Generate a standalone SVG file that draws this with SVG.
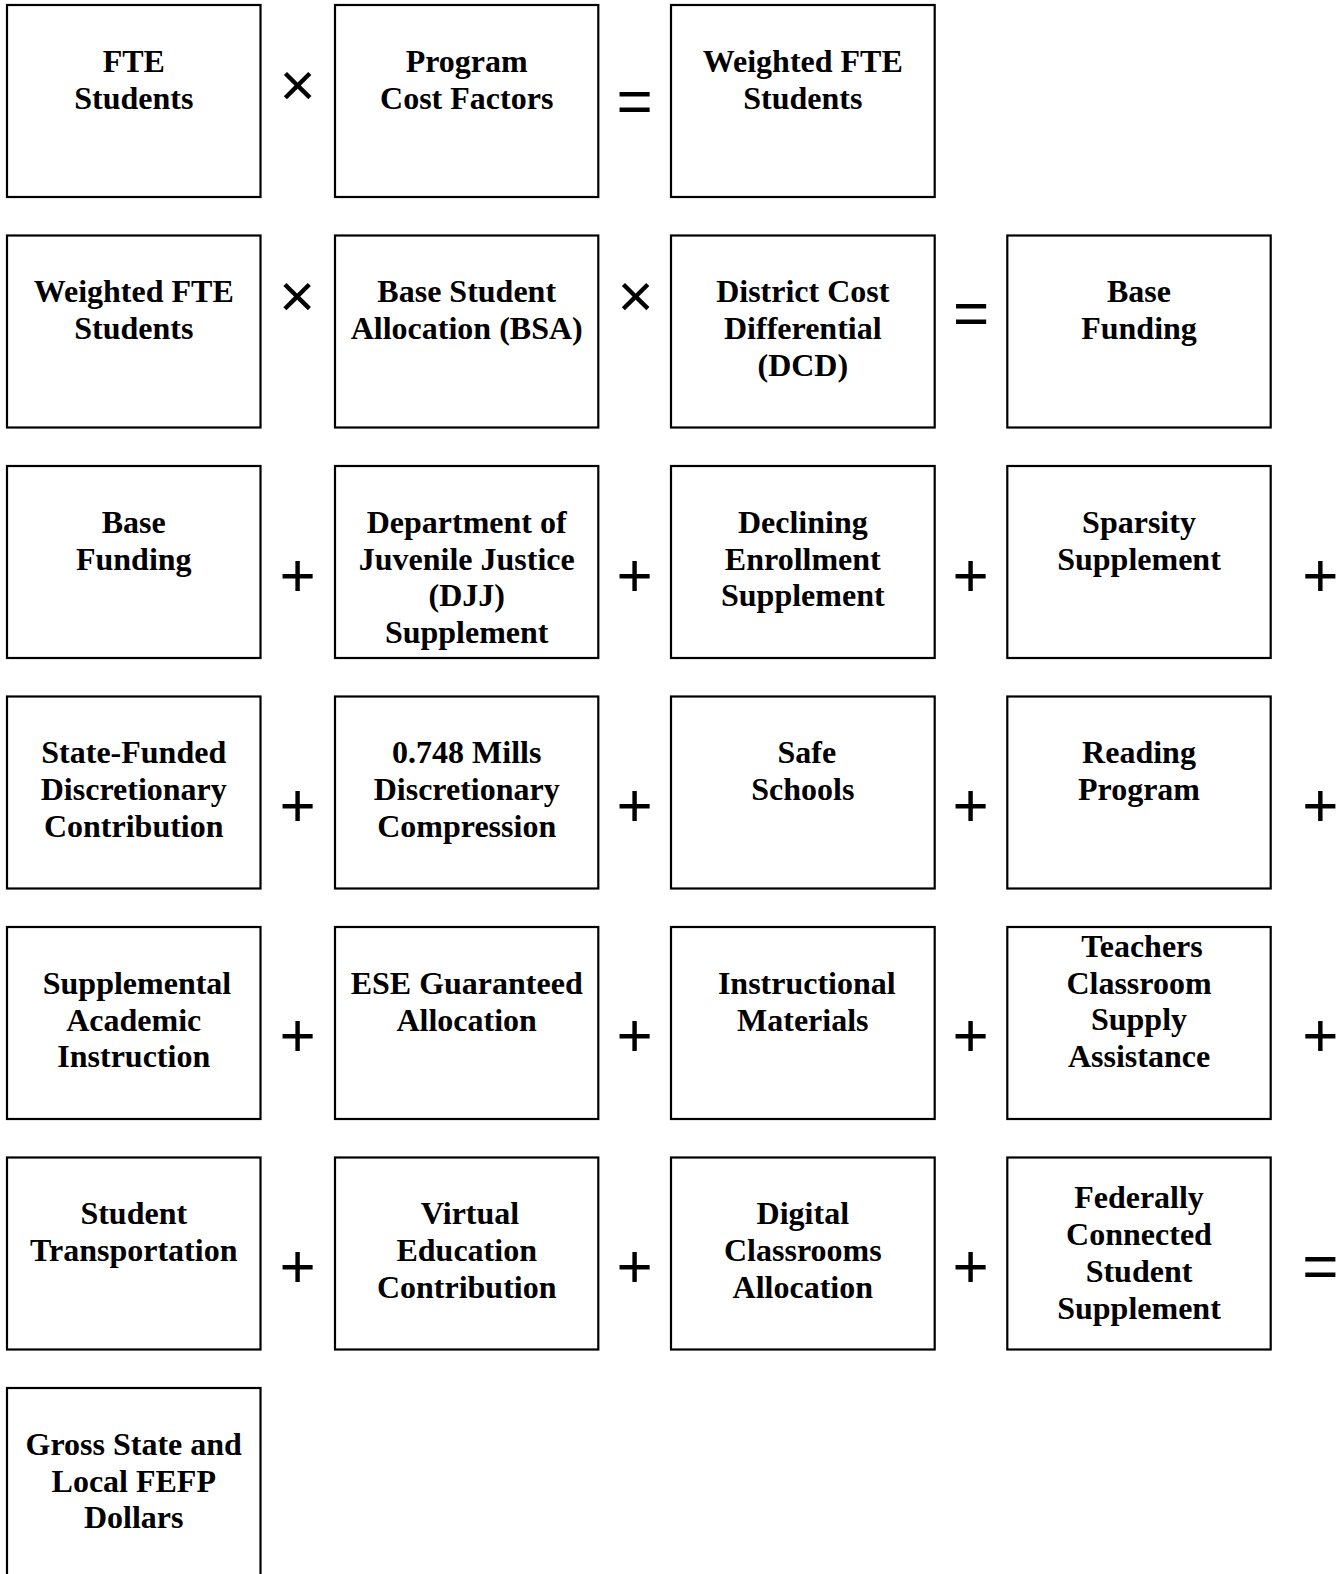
<svg xmlns="http://www.w3.org/2000/svg" width="1343" height="1574" viewBox="0 0 1343 1574">
<style>
  .box { fill: #ffffff; stroke: #000000; stroke-width: 2.2; }
  .lbl { font-family: "Liberation Serif", "Times New Roman", serif; font-weight: bold; font-size: 32px; fill: #000; text-anchor: middle; }
  .op { font-family: "Liberation Sans", Arial, sans-serif; font-size: 62px; fill: #000; text-anchor: middle; }
</style>
<rect width="1343" height="1574" fill="#ffffff"/>

<!-- Row 1 -->
<g id="fte-students">
  <rect class="box" x="7" y="5" width="253.5" height="192"/>
  <text class="lbl" x="133.75" y="71.8">FTE</text>
  <text class="lbl" x="133.75" y="108.6">Students</text>
</g>
<g id="program-cost-factors">
  <rect class="box" x="335" y="5" width="263.3" height="192"/>
  <text class="lbl" x="466.7" y="71.8">Program</text>
  <text class="lbl" x="466.7" y="108.6">Cost Factors</text>
</g>
<g id="weighted-fte-1">
  <rect class="box" x="671" y="5" width="263.7" height="192"/>
  <text class="lbl" x="802.8" y="71.8">Weighted FTE</text>
  <text class="lbl" x="802.8" y="108.6">Students</text>
</g>

<!-- Row 2 -->
<g id="weighted-fte-2">
  <rect class="box" x="7" y="235.5" width="253.5" height="192"/>
  <text class="lbl" x="133.75" y="302.3">Weighted FTE</text>
  <text class="lbl" x="133.75" y="339.1">Students</text>
</g>
<g id="bsa">
  <rect class="box" x="335" y="235.5" width="263.3" height="192"/>
  <text class="lbl" x="466.7" y="302.3">Base Student</text>
  <text class="lbl" x="466.7" y="339.1">Allocation (BSA)</text>
</g>
<g id="dcd">
  <rect class="box" x="671" y="235.5" width="263.7" height="192"/>
  <text class="lbl" x="802.8" y="302.3">District Cost</text>
  <text class="lbl" x="802.8" y="339.1">Differential</text>
  <text class="lbl" x="802.8" y="375.9">(DCD)</text>
</g>
<g id="base-funding-1">
  <rect class="box" x="1007.3" y="235.5" width="263.4" height="192"/>
  <text class="lbl" x="1139" y="302.3">Base</text>
  <text class="lbl" x="1139" y="339.1">Funding</text>
</g>

<!-- Row 3 -->
<g id="base-funding-2">
  <rect class="box" x="7" y="466" width="253.5" height="192"/>
  <text class="lbl" x="133.75" y="532.8">Base</text>
  <text class="lbl" x="133.75" y="569.6">Funding</text>
</g>
<g id="djj">
  <rect class="box" x="335" y="466" width="263.3" height="192"/>
  <text class="lbl" x="466.7" y="532.8">Department of</text>
  <text class="lbl" x="466.7" y="569.6">Juvenile Justice</text>
  <text class="lbl" x="466.7" y="606.4">(DJJ)</text>
  <text class="lbl" x="466.7" y="643.2">Supplement</text>
</g>
<g id="declining-enrollment">
  <rect class="box" x="671" y="466" width="263.7" height="192"/>
  <text class="lbl" x="802.8" y="532.8">Declining</text>
  <text class="lbl" x="802.8" y="569.6">Enrollment</text>
  <text class="lbl" x="802.8" y="606.4">Supplement</text>
</g>
<g id="sparsity">
  <rect class="box" x="1007.3" y="466" width="263.4" height="192"/>
  <text class="lbl" x="1139" y="532.8">Sparsity</text>
  <text class="lbl" x="1139" y="569.6">Supplement</text>
</g>

<!-- Row 4 -->
<g id="state-funded-discretionary">
  <rect class="box" x="7" y="696.5" width="253.5" height="192"/>
  <text class="lbl" x="133.75" y="763.3">State-Funded</text>
  <text class="lbl" x="133.75" y="800.1">Discretionary</text>
  <text class="lbl" x="133.75" y="836.9">Contribution</text>
</g>
<g id="mills-compression">
  <rect class="box" x="335" y="696.5" width="263.3" height="192"/>
  <text class="lbl" x="466.7" y="763.3">0.748 Mills</text>
  <text class="lbl" x="466.7" y="800.1">Discretionary</text>
  <text class="lbl" x="466.7" y="836.9">Compression</text>
</g>
<g id="safe-schools">
  <rect class="box" x="671" y="696.5" width="263.7" height="192"/>
  <text class="lbl" x="806.8" y="763.3">Safe</text>
  <text class="lbl" x="802.8" y="800.1">Schools</text>
</g>
<g id="reading-program">
  <rect class="box" x="1007.3" y="696.5" width="263.4" height="192"/>
  <text class="lbl" x="1139" y="763.3">Reading</text>
  <text class="lbl" x="1139" y="800.1">Program</text>
</g>

<!-- Row 5 -->
<g id="supplemental-academic">
  <rect class="box" x="7" y="927" width="253.5" height="192"/>
  <text class="lbl" x="137" y="993.8">Supplemental</text>
  <text class="lbl" x="133.75" y="1030.6">Academic</text>
  <text class="lbl" x="133.75" y="1067.4">Instruction</text>
</g>
<g id="ese-guaranteed">
  <rect class="box" x="335" y="927" width="263.3" height="192"/>
  <text class="lbl" x="466.7" y="993.8">ESE Guaranteed</text>
  <text class="lbl" x="466.7" y="1030.6">Allocation</text>
</g>
<g id="instructional-materials">
  <rect class="box" x="671" y="927" width="263.7" height="192"/>
  <text class="lbl" x="806.8" y="993.8">Instructional</text>
  <text class="lbl" x="802.8" y="1030.6">Materials</text>
</g>
<g id="teachers-classroom">
  <rect class="box" x="1007.3" y="927" width="263.4" height="192"/>
  <text class="lbl" x="1142" y="956.7">Teachers</text>
  <text class="lbl" x="1139" y="993.5">Classroom</text>
  <text class="lbl" x="1139" y="1030.3">Supply</text>
  <text class="lbl" x="1139" y="1067.1">Assistance</text>
</g>

<!-- Row 6 -->
<g id="student-transportation">
  <rect class="box" x="7" y="1157.5" width="253.5" height="192"/>
  <text class="lbl" x="133.75" y="1224.3">Student</text>
  <text class="lbl" x="133.75" y="1261.1">Transportation</text>
</g>
<g id="virtual-education">
  <rect class="box" x="335" y="1157.5" width="263.3" height="192"/>
  <text class="lbl" x="470" y="1224.3">Virtual</text>
  <text class="lbl" x="466.7" y="1261.1">Education</text>
  <text class="lbl" x="466.7" y="1297.9">Contribution</text>
</g>
<g id="digital-classrooms">
  <rect class="box" x="671" y="1157.5" width="263.7" height="192"/>
  <text class="lbl" x="802.8" y="1224.3">Digital</text>
  <text class="lbl" x="802.8" y="1261.1">Classrooms</text>
  <text class="lbl" x="802.8" y="1297.9">Allocation</text>
</g>
<g id="federally-connected">
  <rect class="box" x="1007.3" y="1157.5" width="263.4" height="192"/>
  <text class="lbl" x="1139" y="1208.2">Federally</text>
  <text class="lbl" x="1139" y="1245">Connected</text>
  <text class="lbl" x="1139" y="1281.8">Student</text>
  <text class="lbl" x="1139" y="1318.6">Supplement</text>
</g>

<!-- Row 7 -->
<g id="gross-fefp">
  <rect class="box" x="7" y="1388" width="253.5" height="192"/>
  <text class="lbl" x="133.75" y="1454.8">Gross State and</text>
  <text class="lbl" x="133.75" y="1491.6">Local FEFP</text>
  <text class="lbl" x="133.75" y="1528.4">Dollars</text>
</g>

<!-- Operators -->
<g id="connectors">
  <text class="op" x="297.5" y="106">×</text>
  <text class="op" x="634.5" y="122.1">=</text>

  <text class="op" x="297" y="317">×</text>
  <text class="op" x="635.5" y="317">×</text>
  <text class="op" x="971" y="334.1">=</text>

  <text class="op" x="297.5" y="595.6">+</text>
  <text class="op" x="634.5" y="595.6">+</text>
  <text class="op" x="970.5" y="595.6">+</text>
  <text class="op" x="1320.3" y="595.6">+</text>

  <text class="op" x="297.5" y="825.6">+</text>
  <text class="op" x="634.5" y="825.6">+</text>
  <text class="op" x="970.5" y="825.6">+</text>
  <text class="op" x="1320.3" y="825.6">+</text>

  <text class="op" x="297.5" y="1056.1">+</text>
  <text class="op" x="634.5" y="1056.1">+</text>
  <text class="op" x="970.5" y="1056.1">+</text>
  <text class="op" x="1320.3" y="1056.1">+</text>

  <text class="op" x="297.5" y="1286.6">+</text>
  <text class="op" x="634.5" y="1286.6">+</text>
  <text class="op" x="970.5" y="1286.6">+</text>
  <text class="op" x="1320.3" y="1286.6">=</text>
</g>
</svg>
